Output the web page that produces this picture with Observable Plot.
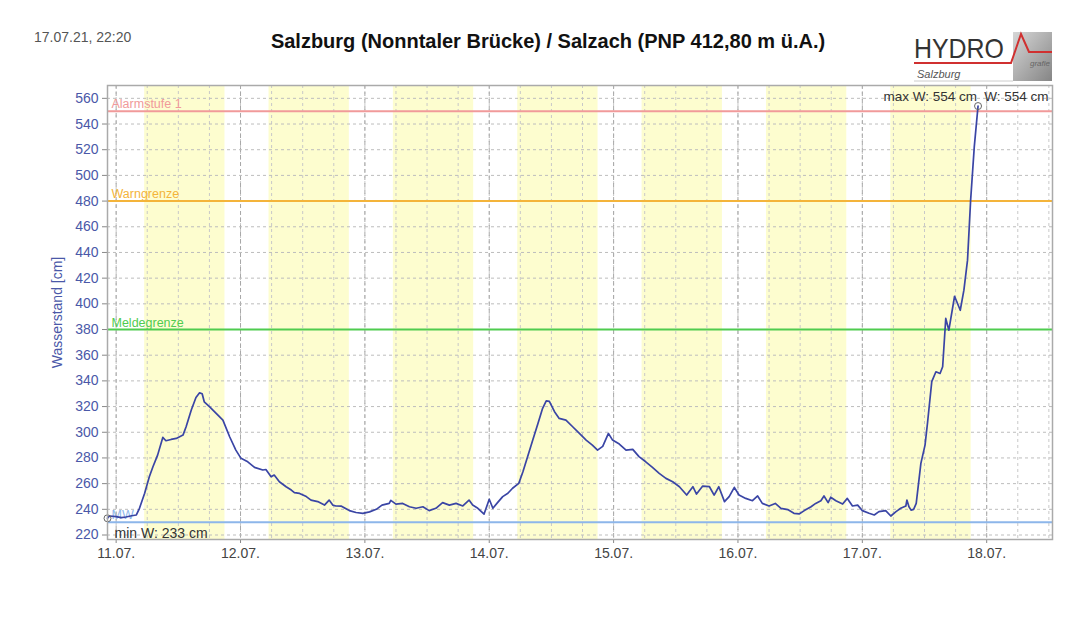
<!DOCTYPE html>
<html><head><meta charset="utf-8">
<script src="https://cdn.jsdelivr.net/npm/d3@7"></script>
<script src="https://cdn.jsdelivr.net/npm/@observablehq/plot@0.6"></script>
<style>
body{margin:0;background:#fff;font-family:"Liberation Sans",Arial,sans-serif;}
#wrap{position:relative;width:1080px;height:626px;overflow:hidden;}
#head{position:relative;height:70px;}
#stamp{position:absolute;left:34px;top:29px;font-size:14px;line-height:16px;color:#555;}
#title{position:absolute;left:0;width:1096px;top:30px;text-align:center;font-weight:bold;font-size:20px;line-height:22px;color:#111;}
#chart svg{display:block;}
</style></head><body>
<div id="wrap">
<div id="head">
<div id="stamp">17.07.21, 22:20</div>
<div id="title">Salzburg (Nonntaler Brücke) / Salzach (PNP 412,80 m ü.A.)</div>
</div>
<div id="chart"></div>
<svg id="logo" style="position:absolute;left:0;top:0" width="1080" height="90">
<defs><linearGradient id="lg" x1="0" y1="0" x2="1" y2="1"><stop offset="0" stop-color="#d6d6d6"/><stop offset="1" stop-color="#858585"/></linearGradient></defs>
<rect x="1013" y="32" width="39" height="49" fill="url(#lg)"/>
<text x="914" y="58" font-size="28" textLength="90" lengthAdjust="spacingAndGlyphs" fill="#333" font-family="Liberation Sans, Arial">HYDRO</text>
<polyline points="914,63 1011,63 1021,34 1029,52 1052,52" fill="none" stroke="#d03030" stroke-width="2"/>
<text x="1030" y="66" font-size="8" font-style="italic" fill="#666">grafie</text>
<text x="917" y="78" font-size="11" font-style="italic" fill="#555">Salzburg</text>
<line x1="914" y1="81" x2="1013" y2="81" stroke="#ccc" stroke-width="1"/>
</svg>
</div>
<script>
// ---- data ----
const startUTC = Date.UTC(2021, 6, 11); // 11.07.2021 00:00
const hours = [
 -1.67,-1.3,0,1.0,1.9,3.0,3.9,4.5,5.5,6.4,7.1,8.0,9.0,9.6,10.6,11.6,12.9,13.5,14.5,15.4,16.1,16.6,17.0,18.0,19.3,20.6,21.9,23.1,
 24.1,25.4,26.7,28.3,28.9,29.9,30.5,31.5,32.8,33.8,34.4,35.4,36.7,37.6,38.9,40.2,41.1,41.8,42.4,43.4,45.0,46.3,47.6,
 48.9,50.2,51.3,52.7,53.0,54.0,55.3,56.6,57.9,59.2,60.4,61.7,63.0,64.3,65.6,66.9,68.1,68.8,69.8,71.0,
 72.0,72.7,73.6,74.6,75.6,76.5,77.7,78.5,79.4,80.4,81.4,82.3,83.0,83.6,84.6,85.5,86.8,88.1,89.4,90.7,91.9,92.9,93.9,95.0,
 95.8,97.1,98.4,99.7,100.9,102.2,103.5,104.8,106.1,107.4,108.7,110.1,111.3,112.0,113.2,114.5,115.4,116.3,117.4,118.3,119.3,
 120.2,121.5,122.8,123.8,124.7,126.0,127.2,128.3,129.6,130.8,131.8,132.8,134.1,135.0,136.0,136.6,137.4,137.9,138.9,140.2,141.1,142.1,143.1,
 144.0,145.3,146.3,147.2,148.5,149.5,150.5,151.4,152.4,152.6,153.0,153.4,153.9,154.4,155.3,156.1,156.6,157.4,158.2,159.0,159.5,
 160.1,160.7,161.8,162.9,163.6,164.3,164.9,165.6,166.33
];
const levelCm = [
 233,234.8,234.3,233.5,234,235,235.6,240.8,252.5,265.4,273.1,282.2,296,293.4,294.4,295.2,297.8,304.3,317.3,327.1,330.7,330,323.7,319.9,314.7,309.5,296.5,286.1,
 279.7,277,272.7,270.6,271,265.4,266.7,261.5,257.6,255,253,252.4,249.9,247.2,246,243.3,247.2,243.3,242.6,242.5,239,237.5,236.9,
 238,240,243.3,244.6,247,244,244.6,242,240.8,242,239,240.8,245.2,243.3,244.6,242.6,247.2,243.3,240.8,236.3,
 247.8,240.8,245.2,249.9,252.5,256.4,260.2,269.3,281,293.9,306.9,318.6,324.5,324,316,310.8,309.5,304.3,299.1,293.9,290,286.1,289,299.1,
 293.9,290.8,286.1,286.7,281,277,272.7,268,264.1,261.5,257.6,251.1,257.6,251.9,258.1,257.6,251.1,257.6,246,249.9,257.1,
 251.1,248.5,246.7,250.4,244.6,242.6,244.6,240.8,239.8,236.9,236.4,239,242,244.6,246.7,250.4,245.2,249.4,246.7,244.1,248.5,242.6,243.3,
 239,236.9,235.6,238.2,239,234.8,238.2,240.8,242.6,247.2,242,239.4,240,244.6,275.8,290,308,339.4,347.1,345.8,351,
 388.6,379.5,405.9,395,410.6,434,480.6,522,554
];
const dayLabels = ["11.07.","12.07.","13.07.","14.07.","15.07.","16.07.","17.07.","18.07."];
const yTicks = [220,240,260,280,300,320,340,360,380,400,420,440,460,480,500,520,540,560];
const bandStartHour = 5.5, bandEndHour = 21.0; // daylight shading
const thresholdLabels = ["Alarmstufe 1","Warngrenze","Meldegrenze","MW"];
const thresholdValues = [550, 480, 380, 230];
const thresholdColors = ["#f19a9a","#f4b43a","#4fcc4f","#8db6ea"];
const yLabel = "Wasserstand [cm]";
const minText = "min W: 233 cm", maxText = "max W: 554 cm", lastText = "W: 554 cm";

// ---- build ----
const H = 3600e3;
const toDate = h => new Date(startUTC + h * H);
const data = hours.map((h, i) => ({t: toDate(h), v: levelCm[i]}));
const xDomain = [toDate(-1.67), toDate(180.7)];
const yDomain = [216.5, 570];
const dayTicks = dayLabels.map((_, i) => toDate(i * 24));
const bands = d3.range(7).map(i => ({x1: toDate(i*24 + bandStartHour), x2: toDate(i*24 + bandEndHour)}));
const sixH = d3.range(0, 181, 6).map(toDate);
const thresholds = thresholdLabels.map((l, i) => ({label: l, value: thresholdValues[i], color: thresholdColors[i]}));
const minD = data[0], maxD = data[data.length - 1];
const fmt = d => dayLabels[dayTicks.findIndex(t => +t === +d)];

const chart = Plot.plot({
  width: 1080, height: 556,
  marginTop: 15, marginBottom: 87, marginLeft: 107, marginRight: 28,
  style: {fontFamily: "Liberation Sans, Arial, sans-serif", fontSize: "14px", background: "#fff"},
  x: {type: "utc", domain: xDomain},
  y: {domain: yDomain},
  marks: [
    Plot.rect(bands, {x1: "x1", x2: "x2", y1: yDomain[0], y2: yDomain[1], fill: "#fdfdcf"}),
    Plot.ruleX(sixH, {stroke: "#c8c8c8", strokeDasharray: "3,3", strokeWidth: 1}),
    Plot.ruleX(dayTicks, {stroke: "#a8a8a8", strokeDasharray: "4,3", strokeWidth: 1}),
    Plot.ruleY(yTicks, {stroke: "#bdbdbd", strokeDasharray: "3,3", strokeWidth: 1}),
    Plot.ruleY(thresholds, {y: "value", stroke: "color", strokeWidth: 2}),
    Plot.text(thresholds, {frameAnchor: "left", y: "value", text: "label", fill: "color", textAnchor: "start", lineAnchor: "bottom", dx: 4, dy: -3, fontSize: 12.5}),
    Plot.line(data, {x: "t", y: "v", stroke: "#3a45a5", strokeWidth: 1.7}),
    Plot.dot([minD, maxD], {x: "t", y: "v", r: 3.5, stroke: "#666", fill: "none", strokeWidth: 1}),
    Plot.text([minText], {frameAnchor: "bottom-left", text: d => d, textAnchor: "start", lineAnchor: "bottom", dx: 7, dy: -2, fill: "#333", fontSize: 14}),
    Plot.text([maxD], {x: "t", frameAnchor: "top", text: () => maxText, textAnchor: "end", lineAnchor: "top", dx: -1, dy: 6, fill: "#333", fontSize: 13.5}),
    Plot.text([lastText], {frameAnchor: "top-right", text: d => d, textAnchor: "end", lineAnchor: "top", dx: -4, dy: 6, fill: "#333", fontSize: 13.5}),
    Plot.text([yLabel], {frameAnchor: "left", text: d => d, rotate: -90, textAnchor: "middle", dx: -50, fill: "#4a58a8", fontSize: 14}),
    Plot.axisY({ticks: yTicks, tickSize: 5, tickPadding: 4, stroke: "#888", fill: "#4a58a8", label: null, fontSize: 14}),
    Plot.axisX({ticks: dayTicks, tickFormat: fmt, tickSize: 4, tickPadding: 5, stroke: "#888", fill: "#444", label: null, fontSize: 14}),
    Plot.frame({stroke: "#aaa", strokeWidth: 1.5})
  ]
});
document.getElementById("chart").appendChild(chart);
</script>
</body></html>
